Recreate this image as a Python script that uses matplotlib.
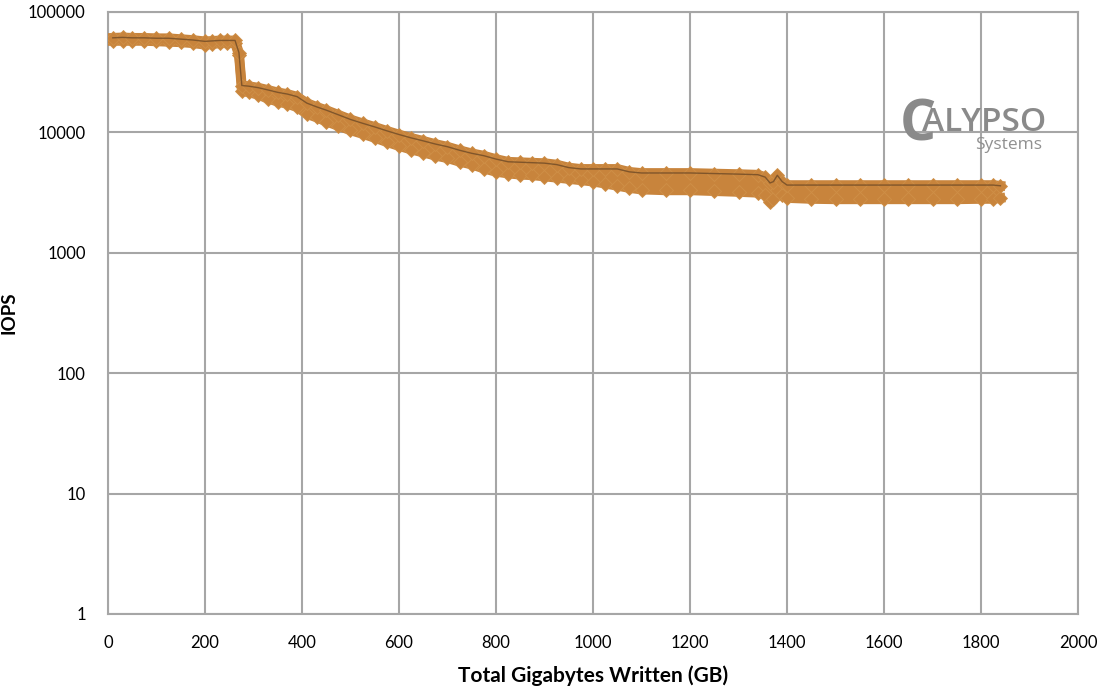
import matplotlib.pyplot as plt
from matplotlib.ticker import FixedLocator, FixedFormatter

# Random write saturation: IOPS envelope (max / min per round) vs GB written
gb_written = [10, 30, 50, 75, 100, 125, 150, 175, 200, 215, 230, 245, 262, 270,
              276, 290, 310, 330, 350, 370, 390, 410, 430, 450, 475, 500, 525,
              550, 575, 600, 625, 650, 675, 700, 725, 750, 775, 800, 825, 850,
              875, 900, 925, 950, 975, 1000, 1025, 1050, 1075, 1100, 1150, 1200,
              1250, 1300, 1340, 1355, 1365, 1372, 1380, 1390, 1400, 1450, 1500,
              1550, 1600, 1650, 1700, 1750, 1800, 1825, 1840]
iops_max = [61000, 61500, 61000, 61000, 60500, 60500, 59500, 58500, 57000, 57500,
            58000, 58000, 58000, 46000, 24500, 24200, 23500, 22500, 21500, 20800,
            19800, 17500, 16300, 15300, 14000, 12800, 11900, 11100, 10300, 9600,
            9000, 8500, 8000, 7600, 7100, 6700, 6400, 6000, 5700, 5650, 5600,
            5550, 5400, 5100, 4970, 4970, 4970, 4970, 4700, 4600, 4600, 4600,
            4550, 4500, 4450, 4250, 3800, 3900, 4400, 3900, 3650, 3650, 3650,
            3650, 3650, 3650, 3650, 3650, 3650, 3650, 3600]
iops_min = [57500, 57500, 57500, 57500, 57000, 56500, 56000, 55000, 53500, 54000,
            55000, 55000, 55000, 44000, 22000, 21500, 20500, 19000, 18000, 17200,
            16200, 14200, 13300, 12300, 11300, 10400, 9700, 9000, 8300, 7700,
            7200, 6800, 6400, 6100, 5700, 5400, 5000, 4700, 4550, 4450, 4400,
            4300, 4200, 4100, 4000, 3900, 3750, 3600, 3450, 3350, 3300, 3300,
            3250, 3200, 3150, 3000, 2620, 2800, 3300, 3000, 2850, 2800, 2780,
            2780, 2780, 2780, 2780, 2780, 2800, 2800, 2850]

x_ticks = [0, 200, 400, 600, 800, 1000, 1200, 1400, 1600, 1800, 2000]
y_ticks = [1, 10, 100, 1000, 10000, 100000]
y_labels = ["1", "10", "100", "1000", "10000", "100000"]

plt.rcParams["font.family"] = ["Lato", "DejaVu Sans"]

fig = plt.figure(figsize=(11.05, 6.88), dpi=100)
ax = fig.add_axes([0.0977, 0.1076, 0.8779, 0.875])

band = "#c8843c"
ax.fill_between(gb_written, iops_min, iops_max, color=band, lw=0, zorder=3)
ax.plot(gb_written, iops_min, color=band, lw=7, marker="D", ms=7,
        mec="#cf9048", mew=0.6, zorder=3)
ax.plot(gb_written, iops_max, color=band, lw=7, marker="D", ms=7,
        mec="#cf9048", mew=0.6, zorder=3)
ax.plot(gb_written, iops_max, color="#6e4a26", lw=1.0, alpha=0.8, zorder=4)

ax.set_yscale("log")
ax.set_xlim(0, 2000)
ax.set_ylim(1, 100000)
ax.xaxis.set_major_locator(FixedLocator(x_ticks))
ax.yaxis.set_major_locator(FixedLocator(y_ticks))
ax.yaxis.set_major_formatter(FixedFormatter(y_labels))
ax.yaxis.set_minor_locator(FixedLocator([]))
ax.tick_params(axis="both", length=0, labelsize=12, colors="black")
ax.tick_params(axis="x", pad=15)
ax.tick_params(axis="y", pad=16)

ax.grid(True, color="#a6a6a6", lw=1.5, zorder=1)
for s in ax.spines.values():
    s.set_color("#a6a6a6")
    s.set_linewidth(1.5)

ax.set_xlabel("Total Gigabytes Written (GB)", fontsize=15, fontweight="bold")
ax.xaxis.set_label_coords(0.5, -0.085)
ax.set_ylabel("IOPS", fontsize=13.5, fontweight="bold")
ax.yaxis.set_label_coords(-0.093, 0.5)

# logo
logo = "#8a8a8a"
fig.text(0.814, 0.796, "C", fontsize=41, color=logo, fontweight="bold",
         family="Open Sans", ha="left", va="baseline")
fig.text(0.834, 0.810, "ALYPSO", fontsize=24, color=logo, fontweight="semibold",
         family="Open Sans", ha="left", va="baseline")
fig.text(0.882, 0.783, "Systems", fontsize=12.5, color="#909090",
         family="Open Sans", ha="left", va="baseline")

fig.savefig("out.png", dpi=100)
